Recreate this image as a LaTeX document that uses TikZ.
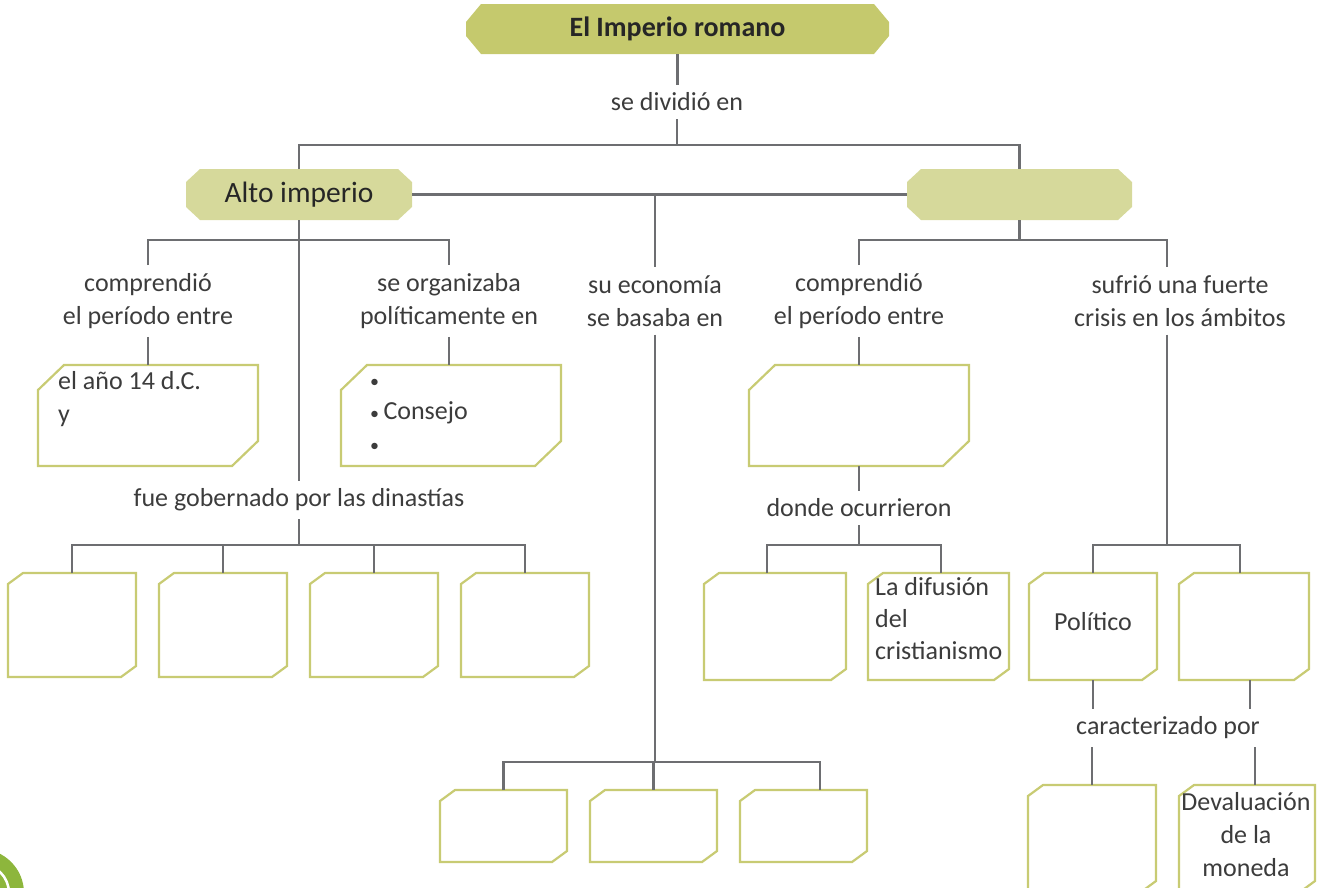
\documentclass[tikz,border=0pt]{standalone}
\usepackage{fontspec}
\setmainfont{Carlito}
\usetikzlibrary{calc}
\definecolor{lin}{HTML}{6D6E71}
\definecolor{boxc}{HTML}{C8CB73}
\definecolor{titlef}{HTML}{C5C96D}
\definecolor{headf}{HTML}{D6D99B}
\definecolor{txt}{HTML}{3C3C3C}
\definecolor{logo}{HTML}{8DB63C}
\tikzset{
  bx/.style={inner sep=0pt, outer sep=0pt},
  boxline/.style={draw=boxc, line width=2.2pt, fill=white},
  conn/.style={draw=lin, line width=2.6pt},
  lbl/.style={inner xsep=2pt, inner ysep=8pt, align=center, text=txt, font=\fontsize{26}{33}\selectfont},
  intext/.style={inner sep=0pt, text=txt, font=\fontsize{26}{33}\selectfont},
}
\newcommand\smbul{{\fontsize{18}{18}\selectfont\textbullet}}
\newcommand\mkbox[7]{%
  \node[bx, minimum width={#4-#2}, minimum height={#5-#3}] (#1) at ({(#2+#4)/2},{(#3+#5)/2}) {};
  \draw[boxline] ([xshift=#6pt]#1.north west) -- (#1.north east) -- ([yshift=#7pt]#1.south east) -- ([xshift=-#6pt]#1.south east) -- (#1.south west) -- ([yshift=-#7pt]#1.north west) -- cycle;}
\newcommand\mkhead[8]{%
  \node[bx, minimum width={#4-#2}, minimum height={#5-#3}] (#1) at ({(#2+#4)/2},{(#3+#5)/2}) {};
  \fill[#8] ([xshift=#6pt]#1.north west) -- ([xshift=-#6pt]#1.north east) -- ([yshift=-#7pt]#1.north east) -- ([yshift=#7pt]#1.south east) -- ([xshift=-#6pt]#1.south east) -- ([xshift=#6pt]#1.south west) -- ([yshift=#7pt]#1.south west) -- ([yshift=-#7pt]#1.north west) -- cycle;}
\begin{document}
\begin{tikzpicture}[x=1pt,y=-1pt]
\useasboundingbox (0,0) rectangle (1322,887);
% bus coordinates
\coordinate (bus0) at (677,145);
\coordinate (busA) at (0,240);
\coordinate (busD) at (0,545);
\coordinate (busE) at (0,762);
\coordinate (eR) at (820,762);
\coordinate (cR) at (1167,240);
\coordinate (bl) at (767,545);
\coordinate (br) at (941,545);
\coordinate (busC) at (0,545);

% headers
\mkhead{title}{466}{4}{889}{54}{15}{18}{titlef}
\node[inner sep=0pt, font=\fontsize{28}{30}\selectfont\bfseries, text=black!85] (titletext) at (title.center) {El Imperio romano};
\mkhead{Alto}{186}{169}{412}{220}{14}{13}{headf}
\node[inner sep=0pt, font=\fontsize{29.5}{30}\selectfont, text=black!85] (altotext) at (Alto.center) {Alto imperio};
\mkhead{Bajo}{907}{169}{1132}{220}{14}{13}{headf}

% labels
\node[lbl] (L0) at (677,102) {se dividió en};
\node[lbl] (LA1) at (148,301) {comprendió\\el período entre};
\node[lbl] (LA2) at (449,301) {se organizaba\\políticamente en};
\node[lbl] (LE) at (655,301) {su economía\\se basaba en};
\node[lbl] (LB1) at (859,301) {comprendió\\el período entre};
\node[lbl] (LB2) at (1180,301) {sufrió una fuerte\\crisis en los ámbitos};
\node[lbl] (LA3) at (299,500) {fue gobernado por las dinastías};
\node[lbl] (LB3) at (859,508) {donde ocurrieron};
\node[lbl] (LB4) at (1168,728) {caracterizado por};

% boxes
\mkbox{A1}{38}{365}{258}{466}{26}{25}
\mkbox{A2}{341}{365}{561}{466}{26}{25}
\mkbox{B1}{749}{365}{969}{466}{26}{25}
\mkbox{D1}{8}{573}{136}{677}{15}{11}
\mkbox{D2}{159}{573}{287}{677}{15}{11}
\mkbox{D3}{310}{573}{438}{677}{15}{11}
\mkbox{D4}{461}{573}{589}{677}{15}{11}
\mkbox{B2}{704}{573}{846}{680}{15}{11}
\mkbox{B3}{868}{573}{1009}{680}{15}{11}
\mkbox{C1}{1029}{573}{1157}{680}{15}{11}
\mkbox{C2}{1179}{573}{1309}{680}{15}{11}
\mkbox{E1}{440}{790}{567}{862}{15}{11}
\mkbox{E2}{590}{790}{717}{862}{15}{11}
\mkbox{E3}{740}{790}{867}{862}{15}{11}
\mkbox{F1}{1028}{785}{1156}{892}{15}{11}
\mkbox{F2}{1179}{785}{1315}{892}{15}{11}

% texts in boxes
\node[intext, align=left, anchor=north west] (tA1) at (58,371) {el año 14 d.C.\\y};
\node[intext, align=left, anchor=west, font=\fontsize{26}{32}\selectfont] (tA2) at (370,415) {\smbul\\\smbul\,Consejo\\\smbul};
\node[intext, align=left, anchor=north west, font=\fontsize{26}{32}\selectfont] (tB3) at (875,577) {La difusión\\del\\cristianismo};
\node[intext] (tC1) at (1093,622) {Político};
\node[intext, align=center, anchor=north] (tF2) at (1246,792) {Devaluación\\de la\\moneda};

% connectors
\draw[conn] (title.south) -- (title.south |- L0.north);
\draw[conn] (L0.south) -- (L0.south |- bus0);
\draw[conn] (Alto.north) -- (Alto.north |- bus0) -- (Bajo.north |- bus0) -- (Bajo.north);
\draw[conn] (Alto.east) -- (Bajo.west);
\draw[conn] (LE.north |- Alto.east) -- (LE.north);
\draw[conn] (Alto.south) -- (Alto.south |- LA3.north);
\draw[conn] (LA1.north) -- (LA1.north |- busA) -- (LA2.north |- busA) -- (LA2.north);
\draw[conn] (LA1.south) -- (LA1.south |- A1.north);
\draw[conn] (LA2.south) -- (LA2.south |- A2.north);
\draw[conn] (LA3.south) -- (LA3.south |- busD);
\draw[conn] (D1.north) -- (D1.north |- busD) -- (D4.north |- busD) -- (D4.north);
\draw[conn] (D2.north |- busD) -- (D2.north);
\draw[conn] (D3.north |- busD) -- (D3.north);
\draw[conn] (LE.south) -- (LE.south |- busE);
\draw[conn] (E1.north) -- (E1.north |- busE) -- (eR) -- (eR |- E3.north);
\draw[conn] (E2.north |- busE) -- (E2.north);
\draw[conn] (Bajo.south) -- (Bajo.south |- busA);
\draw[conn] (LB1.north) -- (LB1.north |- busA) -- (cR) -- (cR |- LB2.north);
\draw[conn] (LB1.south) -- (LB1.south |- B1.north);
\draw[conn] (B1.south) -- (B1.south |- LB3.north);
\draw[conn] (LB3.south) -- (LB3.south |- busC);
\draw[conn] (bl |- B2.north) -- (bl) -- (br) -- (br |- B3.north);
\draw[conn] (cR |- LB2.south) -- (cR |- busC);
\draw[conn] (C1.north) -- (C1.north |- busC) -- ([xshift=-4pt]C2.north |- busC) -- ([xshift=-4pt]C2.north);
\draw[conn] (C1.south) -- (C1.south |- LB4.north);
\draw[conn] ([xshift=6pt]C2.south) -- ([xshift=6pt]C2.south |- LB4.north);
\draw[conn] (F1.north |- LB4.south) -- (F1.north);
\draw[conn] ([xshift=8pt]F2.north |- LB4.south) -- ([xshift=8pt]F2.north);

% logo corner
\begin{scope}
\clip (0,0) rectangle (1322,887);
\fill[logo] (-20,893) circle[radius=44];
\draw[white, line width=2.5pt] (-20,893) circle[radius=29];
\end{scope}
\end{tikzpicture}
\end{document}
